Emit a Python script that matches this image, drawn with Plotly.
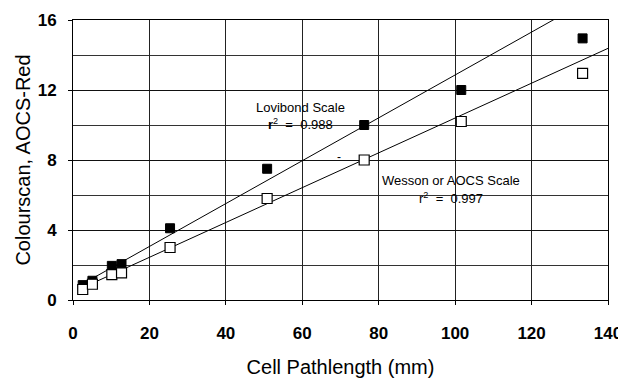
import plotly.graph_objects as go

# Data
pathlength_mm = [2.54, 5.08, 10.16, 12.7, 25.4, 50.8, 76.2, 101.6, 133.35]
lovibond = [0.85, 1.1, 1.95, 2.05, 4.1, 7.5, 10.0, 12.0, 14.95]
wesson = [0.6, 0.9, 1.45, 1.55, 3.0, 5.8, 8.0, 10.2, 12.95]

# Regression lines (slope, intercept) as drawn
lov_fit = (0.1225, 0.61)
wes_fit = (0.0995, 0.45)
fit_x = [2.54, 140]

x_ticks = [0, 20, 40, 60, 80, 100, 120, 140]
y_ticks = [0, 4, 8, 12, 16]

SANS = "Liberation Sans, Arial, Helvetica, sans-serif"

fig = go.Figure()

fig.add_trace(go.Scatter(
    x=fit_x, y=[lov_fit[0] * v + lov_fit[1] for v in fit_x],
    mode="lines", line=dict(color="black", width=1), showlegend=False, hoverinfo="skip"))
fig.add_trace(go.Scatter(
    x=fit_x, y=[wes_fit[0] * v + wes_fit[1] for v in fit_x],
    mode="lines", line=dict(color="black", width=1), showlegend=False, hoverinfo="skip"))

fig.add_trace(go.Scatter(
    x=pathlength_mm, y=lovibond, mode="markers", name="Lovibond Scale",
    marker=dict(symbol="square", size=9, color="black", line=dict(color="black", width=1)),
    showlegend=False))
fig.add_trace(go.Scatter(
    x=pathlength_mm, y=wesson, mode="markers", name="Wesson or AOCS Scale",
    marker=dict(symbol="square", size=10, color="white", line=dict(color="black", width=1.2)),
    showlegend=False))

ann_font = dict(family=SANS, size=13, color="black")
fig.add_annotation(x=59.5, y=11.0, text="Lovibond Scale", showarrow=False, font=ann_font)
fig.add_annotation(x=59.5, y=10.05, text="<b>r</b><sup>2</sup>  =  0.988", showarrow=False, font=ann_font)
fig.add_annotation(x=99, y=6.85, text="Wesson or AOCS Scale", showarrow=False, font=ann_font)
fig.add_annotation(x=99, y=5.85, text="r<sup>2</sup>  =  0.997", showarrow=False, font=ann_font)
fig.add_annotation(x=69.5, y=8.2, text="-", showarrow=False, font=dict(family=SANS, size=12, color="black"))

fig.update_xaxes(
    range=[0, 140], tickvals=x_ticks, ticktext=[str(v) for v in x_ticks],
    showline=True, linecolor="black", linewidth=1, mirror=True,
    showgrid=True, gridcolor="#222", gridwidth=1,
    ticks="outside", ticklen=4, tickcolor="black", ticklabelstandoff=14,
    ticklabeloverflow="allow",
    tickfont=dict(family=SANS, size=17, color="black", weight="bold"),
    title=dict(text="Cell Pathlength (mm)", font=dict(family=SANS, size=20, color="black"), standoff=17),
    zeroline=False,
)
fig.update_yaxes(
    range=[0, 16], tickvals=y_ticks, ticktext=[str(v) for v in y_ticks],
    showline=True, linecolor="black", linewidth=1, mirror=True,
    showgrid=True, gridcolor="#111", gridwidth=1.3,
    minor=dict(dtick=2, showgrid=True, gridcolor="#333", gridwidth=1, ticks=""),
    ticks="outside", ticklen=4, tickcolor="black", ticklabelstandoff=8,
    ticklabeloverflow="allow",
    tickfont=dict(family=SANS, size=17, color="black", weight="bold"),
    title=dict(text="Colourscan, AOCS-Red", font=dict(family=SANS, size=20, color="black"), standoff=1),
    zeroline=False,
)

# page body has an 8px default margin, so the figure is 8px smaller
fig.update_layout(
    width=618, height=371,
    margin=dict(l=65, r=18, t=12, b=79, autoexpand=False),
    paper_bgcolor="white", plot_bgcolor="white",
    showlegend=False,
)

fig.write_html("out.html")
